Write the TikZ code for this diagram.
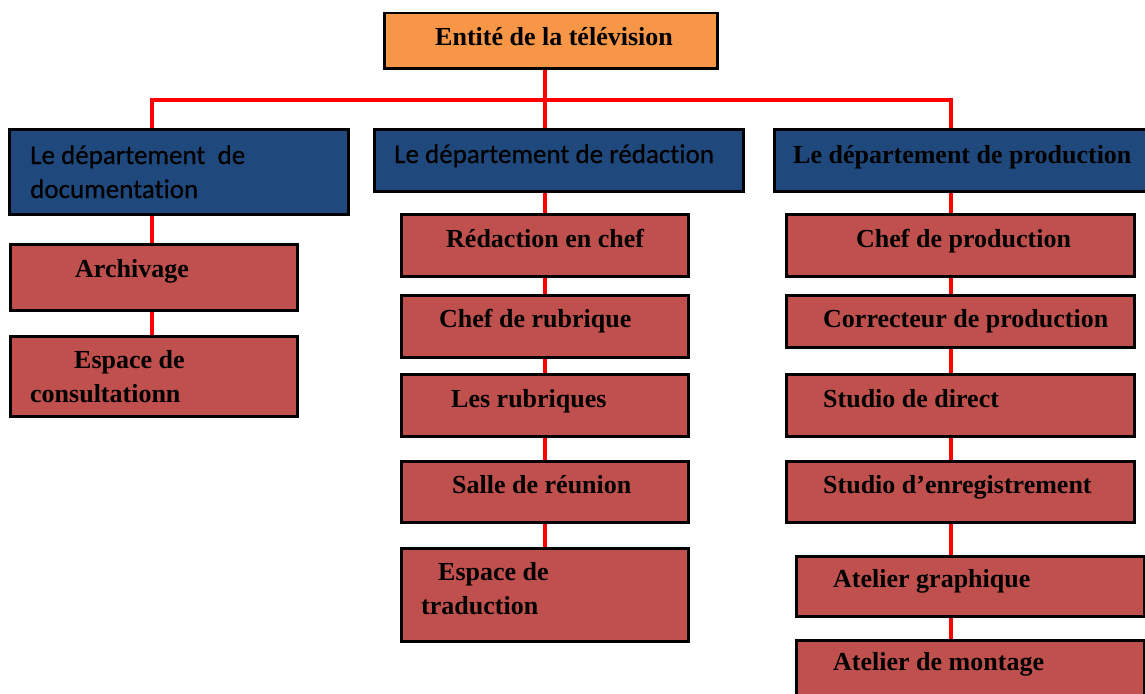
\documentclass[tikz,border=0pt]{standalone}
\usepackage{fontspec}
\setmainfont{Liberation Serif}
\newfontfamily\deptfont[Ligatures=NoCommon,FakeBold=0.6]{Carlito}
\definecolor{toporange}{HTML}{F79646}
\definecolor{deptblue}{HTML}{1F497D}
\definecolor{unitred}{HTML}{C0504D}
\tikzset{
  orgbox/.style={draw=black, line width=2.5pt, anchor=north west, inner sep=0pt},
  topbox/.style={orgbox, fill=toporange},
  deptbox/.style={orgbox, fill=deptblue},
  unitbox/.style={orgbox, fill=unitred},
  txt/.style={anchor=base west, inner sep=0pt, font=\fontsize{26}{30}\selectfont\bfseries},
  depttxt/.style={anchor=base west, inner sep=0pt, font=\fontsize{27}{30}\selectfont\deptfont},
  redlink/.style={draw=red, line width=4pt}
}

\begin{document}
\begin{tikzpicture}[x=1pt,y=-1pt]
\useasboundingbox (0,0) rectangle (1145,693);

% boxes
\node[topbox, minimum width=333pt, minimum height=55pt] (top) at (383,12) {};
\node[deptbox, minimum width=339pt, minimum height=85pt] (doc) at (8,128) {};
\node[deptbox, minimum width=369pt, minimum height=62pt] (redac) at (373,128) {};
\node[deptbox, minimum width=372pt, minimum height=62pt] (prod) at (773,128) {};

\node[unitbox, minimum width=287pt, minimum height=66pt] (arch) at (9,243) {};
\node[unitbox, minimum width=287pt, minimum height=80pt] (cons) at (9,335) {};

\node[unitbox, minimum width=287pt, minimum height=62pt] (rchef) at (400,213) {};
\node[unitbox, minimum width=287pt, minimum height=62pt] (rubchef) at (400,294) {};
\node[unitbox, minimum width=287pt, minimum height=62pt] (rubs) at (400,373) {};
\node[unitbox, minimum width=287pt, minimum height=61pt] (salle) at (400,460) {};
\node[unitbox, minimum width=287pt, minimum height=93pt] (trad) at (400,547) {};

\node[unitbox, minimum width=348pt, minimum height=62pt] (pchef) at (785,213) {};
\node[unitbox, minimum width=348pt, minimum height=52pt] (corr) at (785,294) {};
\node[unitbox, minimum width=348pt, minimum height=62pt] (direct) at (785,373) {};
\node[unitbox, minimum width=348pt, minimum height=61pt] (enreg) at (785,460) {};
\node[unitbox, minimum width=348pt, minimum height=60pt] (graph) at (795,555) {};
\node[unitbox, minimum width=348pt, minimum height=70pt] (mont) at (795,639) {};

% links
\coordinate (busL) at (152,100);
\coordinate (busM) at (545,100);
\coordinate (busR) at (951,100);
\draw[redlink] (busL |- doc.north) -- (busL) -- (busR) -- (busR |- prod.north);
\draw[redlink] (busM |- top.south) -- (busM |- redac.north);
\foreach \a/\b in {doc/arch, arch/cons}
{
  \draw[redlink] (busL |- \a.south) -- (busL |- \b.north);
}
\foreach \a/\b in {redac/rchef, rchef/rubchef, rubchef/rubs, rubs/salle, salle/trad}
{
  \draw[redlink] (busM |- \a.south) -- (busM |- \b.north);
}
\foreach \a/\b in {prod/pchef, pchef/corr, corr/direct, direct/enreg, enreg/graph, graph/mont}
{
  \draw[redlink] (busR |- \a.south) -- (busR |- \b.north);
}

% texts
\node[txt] (toptxt) at (435,46) {Entité de la télévision};
\node[depttxt] (doctxta) at (30,164) {Le département\ \ de};
\node[depttxt] (doctxtb) at (30,198) {documentation};
\node[depttxt] (redactxt) at (394,163) {Le département de rédaction};
\node[txt] (prodtxt) at (793,163) {Le département de production};

\node[txt] (archtxt) at (75,277) {Archivage};
\node[txt] (constxta) at (74,368) {Espace de};
\node[txt] (constxtb) at (30,402) {consultationn};

\node[txt] (rcheftxt) at (446,247) {Rédaction en chef};
\node[txt] (rubcheftxt) at (439,327) {Chef de rubrique};
\node[txt] (rubstxt) at (451,407) {Les rubriques};
\node[txt] (salletxt) at (452,493) {Salle de réunion};
\node[txt] (tradtxta) at (438,580) {Espace de};
\node[txt] (tradtxtb) at (421,614) {traduction};

\node[txt] (pcheftxt) at (856,247) {Chef de production};
\node[txt] (corrtxt) at (823,327) {Correcteur de production};
\node[txt] (directtxt) at (823,407) {Studio de direct};
\node[txt] (enregtxt) at (823,493) {Studio d’enregistrement};
\node[txt] (graphtxt) at (833,587) {Atelier graphique};
\node[txt] (monttxt) at (833,670) {Atelier de montage};
\end{tikzpicture}
\end{document}
